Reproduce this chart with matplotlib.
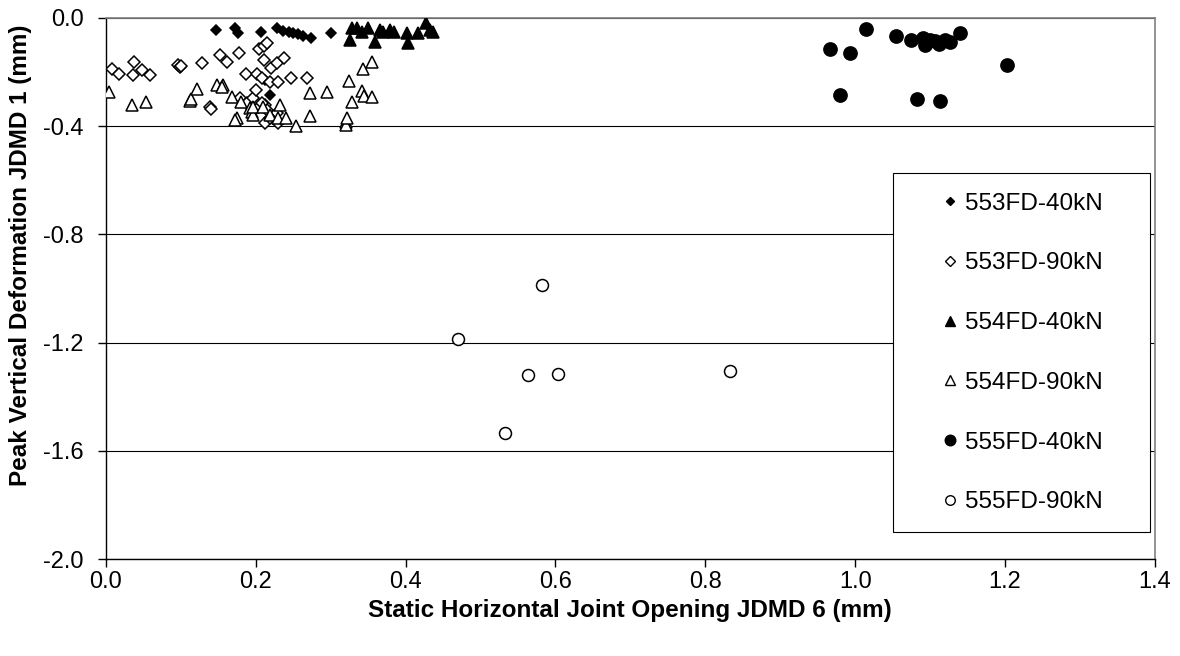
import matplotlib
matplotlib.use("Agg")
import matplotlib.pyplot as plt
from matplotlib.lines import Line2D
from matplotlib.patches import Rectangle

# ---- data (x = JDMD 6 opening, y = JDMD 1 deformation, mm)
fd553_40_x = [0.147, 0.173, 0.176, 0.207, 0.229, 0.237, 0.244, 0.250, 0.257,
              0.263, 0.274, 0.300, 0.213, 0.219]
fd553_40_y = [-0.044, -0.038, -0.054, -0.050, -0.038, -0.047, -0.050, -0.057,
              -0.059, -0.065, -0.075, -0.057, -0.229, -0.285]

fd553_90_x = [0.008, 0.018, 0.038, 0.037, 0.049, 0.059, 0.097, 0.099, 0.101,
              0.129, 0.139, 0.140, 0.152, 0.162, 0.178, 0.179, 0.187, 0.188,
              0.195, 0.197, 0.201, 0.202, 0.204, 0.208, 0.211, 0.211, 0.213,
              0.213, 0.215, 0.215, 0.219, 0.221, 0.228, 0.228, 0.230, 0.230,
              0.238, 0.247, 0.268, 0.219, 0.204, 0.208]
fd553_90_y = [-0.190, -0.208, -0.163, -0.212, -0.193, -0.211, -0.172, -0.182,
              -0.178, -0.166, -0.330, -0.336, -0.137, -0.162, -0.128, -0.297,
              -0.207, -0.315, -0.340, -0.297, -0.266, -0.207, -0.116, -0.223,
              -0.104, -0.155, -0.322, -0.389, -0.094, -0.340, -0.235, -0.186,
              -0.165, -0.352, -0.235, -0.389, -0.149, -0.223, -0.223, -0.371,
              -0.328, -0.315]

fd554_40_x = [0.328, 0.326, 0.335, 0.342, 0.350, 0.359, 0.366, 0.370, 0.379,
              0.384, 0.402, 0.404, 0.417, 0.428, 0.433, 0.437]
fd554_40_y = [-0.038, -0.081, -0.038, -0.051, -0.038, -0.088, -0.044, -0.051,
              -0.044, -0.051, -0.057, -0.094, -0.057, -0.020, -0.044, -0.051]

fd554_90_x = [0.005, 0.035, 0.054, 0.113, 0.114, 0.122, 0.148, 0.157, 0.155,
              0.169, 0.175, 0.172, 0.181, 0.193, 0.195, 0.197, 0.197, 0.210,
              0.219, 0.233, 0.230, 0.241, 0.254, 0.273, 0.295, 0.273, 0.320,
              0.321, 0.322, 0.324, 0.343, 0.355, 0.328, 0.342, 0.344, 0.355]
fd554_90_y = [-0.275, -0.322, -0.309, -0.306, -0.300, -0.262, -0.248, -0.246,
              -0.256, -0.293, -0.368, -0.377, -0.309, -0.334, -0.346, -0.359,
              -0.328, -0.328, -0.359, -0.322, -0.371, -0.371, -0.398, -0.277,
              -0.272, -0.362, -0.383, -0.396, -0.371, -0.232, -0.190, -0.163,
              -0.309, -0.270, -0.287, -0.293]

fd555_40_x = [0.967, 0.980, 0.993, 1.015, 1.055, 1.075, 1.082, 1.090, 1.093,
              1.100, 1.107, 1.112, 1.113, 1.120, 1.126, 1.140, 1.202]
fd555_40_y = [-0.115, -0.285, -0.130, -0.040, -0.065, -0.080, -0.300, -0.075,
              -0.100, -0.080, -0.085, -0.095, -0.305, -0.080, -0.090, -0.054,
              -0.174]

fd555_90_x = [0.582, 0.470, 0.563, 0.603, 0.533, 0.833]
fd555_90_y = [-0.987, -1.188, -1.320, -1.317, -1.533, -1.306]

series_labels = ["553FD-40kN", "553FD-90kN", "554FD-40kN",
                 "554FD-90kN", "555FD-40kN", "555FD-90kN"]

x_ticks = [0.0, 0.2, 0.4, 0.6, 0.8, 1.0, 1.2, 1.4]
y_ticks = [-2.0, -1.6, -1.2, -0.8, -0.4, 0.0]

plt.rcParams.update({
    "font.family": ["Liberation Sans", "DejaVu Sans"],
    "axes.unicode_minus": False,
})

W, H = 1180, 656
fig = plt.figure(figsize=(W / 100, H / 100), dpi=100)
ax = fig.add_axes([105.7 / W, 1 - 559 / H, (1155 - 105.7) / W, (559 - 18) / H])

# marker styles: (marker, size, filled)
styles = [("D", 4.6, True), ("D", 6.6, False), ("^", 9.0, True),
          ("^", 9.0, False), ("o", 9.5, True), ("o", 8.6, False)]
data = [(fd553_40_x, fd553_40_y), (fd553_90_x, fd553_90_y),
        (fd554_40_x, fd554_40_y), (fd554_90_x, fd554_90_y),
        (fd555_40_x, fd555_40_y), (fd555_90_x, fd555_90_y)]

handles = []
for (xs, ys), (mk, ms, filled), lab in zip(data, styles, series_labels):
    face = "black" if filled else "white"
    ax.plot(xs, ys, linestyle="none", marker=mk, markersize=ms,
            markerfacecolor=face, markeredgecolor="black",
            markeredgewidth=1.1, zorder=4)
    handles.append(Line2D([], [], linestyle="none", marker=mk,
                          markersize=ms * 0.8, markerfacecolor=face,
                          markeredgecolor="black", markeredgewidth=1.0,
                          label=lab))

ax.set_xlim(0, 1.4)
ax.set_ylim(-2.0, 0.0)
ax.set_xticks(x_ticks)
ax.set_yticks(y_ticks)
ax.set_xticklabels([f"{v:.1f}" for v in x_ticks])
ax.set_yticklabels([f"{v:.1f}" for v in y_ticks])
ax.tick_params(axis="both", direction="out", length=6, width=1,
               labelsize=17, color="black")
ax.tick_params(axis="x", pad=3)
ax.tick_params(axis="y", pad=10)

ax.yaxis.grid(True, color="black", linewidth=0.8)
ax.set_axisbelow(True)

for side in ("left", "bottom"):
    ax.spines[side].set_color("black")
    ax.spines[side].set_linewidth(1.0)
for side in ("top", "right"):
    ax.spines[side].set_color("#808080")
    ax.spines[side].set_linewidth(1.2)

ax.set_xlabel("Static Horizontal Joint Opening JDMD 6 (mm)", fontsize=17.5,
              fontweight="bold", labelpad=4)
fig.text(21 / W, 1 - 255 / H, "Peak Vertical Deformation JDMD 1 (mm)",
         rotation=90, ha="center", va="center", fontsize=17.5,
         fontweight="bold")

# legend box with white fill over the gridlines
box = Rectangle((893 / W, 1 - 532 / H), (1150 - 893) / W, (532 - 173) / H,
                transform=fig.transFigure, facecolor="white",
                edgecolor="black", linewidth=0.8, zorder=3, clip_on=False)
ax.add_artist(box)

leg = ax.legend(handles=handles, loc="center",
                bbox_to_anchor=((893 + 1150) / 2 / W, 1 - 353 / H),
                bbox_transform=fig.transFigure, frameon=False,
                fontsize=17.5, handlelength=0.8, handletextpad=0.2,
                labelspacing=1.55, borderpad=0)
leg.set_zorder(5)

fig.savefig("out.png", dpi=100)
